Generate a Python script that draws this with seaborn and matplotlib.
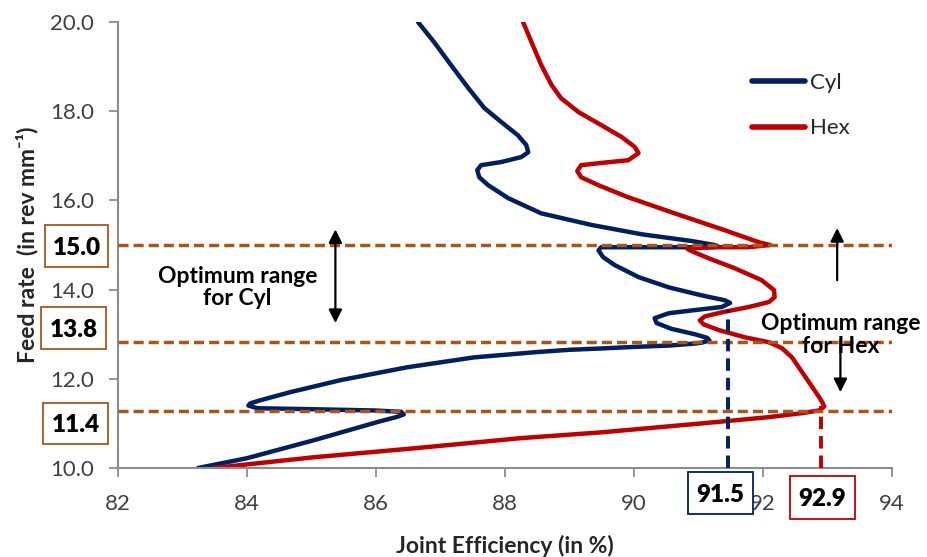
import numpy as np
import pandas as pd
import matplotlib
matplotlib.use('Agg')
import matplotlib.pyplot as plt
import seaborn as sns
from matplotlib.patches import Rectangle

# -------------------------------------------------------
# Data
# -------------------------------------------------------
cyl_eff = [86.65, 86.90, 87.16, 87.43, 87.68, 87.94, 88.20, 88.33, 88.36, 88.25,
           87.94, 87.63, 87.57, 87.60, 87.74, 88.05, 88.56, 89.34, 90.12, 90.89,
           91.25, 91.30, 91.25, 90.27, 89.49, 89.45, 89.52, 89.70, 90.07, 90.54,
           91.05, 91.41, 91.49, 91.36, 90.94, 90.54, 90.32, 90.35, 90.58, 90.94,
           91.13, 91.17, 91.05, 90.94, 90.54, 90.00, 89.49, 89.00, 88.50, 87.52,
           86.49, 85.45, 84.67, 84.21, 84.05, 84.02, 84.16, 84.94, 85.97, 86.39,
           86.43, 86.31, 86.07, 85.03, 84.00, 83.24]
cyl_feed = [20.00, 19.55, 19.04, 18.52, 18.07, 17.76, 17.46, 17.24, 17.08, 16.97,
            16.86, 16.79, 16.68, 16.52, 16.34, 16.05, 15.71, 15.45, 15.24, 15.09,
            15.00, 14.97, 14.95, 14.95, 14.95, 14.88, 14.73, 14.55, 14.28, 14.05,
            13.87, 13.76, 13.70, 13.61, 13.54, 13.47, 13.36, 13.25, 13.12, 13.00,
            12.92, 12.86, 12.81, 12.79, 12.745, 12.715, 12.68, 12.65, 12.60, 12.48,
            12.26, 11.97, 11.70, 11.52, 11.45, 11.40, 11.34, 11.32, 11.29, 11.26,
            11.20, 11.14, 11.05, 10.62, 10.22, 10.00]

hex_eff = [88.28, 88.41, 88.56, 88.72, 88.87, 89.14, 89.49, 89.81, 90.01, 90.07,
           89.91, 89.49, 89.18, 89.12, 89.18, 89.45, 89.91, 90.63, 91.41, 91.94,
           92.11, 91.78, 91.21, 90.89, 90.83, 90.93, 91.16, 91.56, 91.98, 92.17,
           92.18, 92.09, 91.78, 91.36, 91.10, 91.02, 91.08, 91.32, 91.72, 92.09,
           92.29, 92.45, 92.87, 92.92, 92.95, 92.87, 92.60, 92.09, 91.05, 89.50,
           88.25, 86.58, 85.03, 83.48]
hex_feed = [20.00, 19.55, 19.04, 18.59, 18.29, 17.98, 17.69, 17.42, 17.20, 17.06,
            16.90, 16.84, 16.79, 16.66, 16.52, 16.34, 16.07, 15.71, 15.33, 15.06,
            15.00, 14.95, 14.95, 14.93, 14.91, 14.84, 14.70, 14.48, 14.21, 13.99,
            13.83, 13.72, 13.61, 13.49, 13.40, 13.31, 13.22, 13.09, 12.93, 12.82,
            12.69, 12.48, 11.59, 11.47, 11.38, 11.29, 11.23, 11.14, 11.00, 10.80,
            10.67, 10.44, 10.24, 10.00]

cut_feed = [15.0, 12.83, 11.28]          # dashed optimum limits
opt_eff = [91.46, 92.9]                  # optimum efficiency (Cyl, Hex)
opt_top = [13.55, 11.38]                 # where the vertical markers start
feed_labels = ["15.0", "13.8", "11.4"]
eff_labels = ["91.5", "92.9"]
x_ticks = [82, 84, 86, 88, 90, 92, 94]
y_ticks = [10, 12, 14, 16, 18, 20]

NAVY = "#002060"
RED = "#C00000"
BROWN = "#A9561B"
GREY = "#8C8C8C"
W, H = 928, 557


def boxed_label(fig, x0, y0, x1, y1, text, color):
    """Boxed value label placed in figure pixel coordinates."""
    fig.add_artist(Rectangle((x0 / W, 1 - y1 / H), (x1 - x0) / W, (y1 - y0) / H,
                             transform=fig.transFigure, facecolor="white",
                             edgecolor=color, lw=1.3, zorder=5))
    fig.text((x0 + x1) / 2 / W, 1 - ((y0 + y1) / 2 + 2) / H, text,
             ha="center", va="center", fontsize=17.5, fontweight="heavy",
             color="black", zorder=6)


sns.set_theme(style="ticks")
plt.rcParams['font.family'] = ['Lato', 'DejaVu Sans']

fig = plt.figure(figsize=(9.28, 5.57), dpi=100)
ax = fig.add_axes([0.1272, 0.1598, 0.834, 0.8007])

df = pd.concat([
    pd.DataFrame({"eff": cyl_eff, "feed": cyl_feed, "tool": "Cyl"}),
    pd.DataFrame({"eff": hex_eff, "feed": hex_feed, "tool": "Hex"}),
], ignore_index=True)

sns.lineplot(data=df, x="eff", y="feed", hue="tool", palette={"Cyl": NAVY, "Hex": RED},
             sort=False, estimator=None, linewidth=3.2, ax=ax, zorder=2,
             solid_capstyle="round", solid_joinstyle="round")

# optimum limits
for y in cut_feed:
    ax.axhline(y, color=BROWN, lw=2.5, ls=(0, (2.9, 1.45)), zorder=3)
for x, top, c in zip(opt_eff, opt_top, [NAVY, RED]):
    ax.vlines(x, 10, top, color=c, lw=2.8, linestyles=[(0, (3.2, 1.8))], zorder=3)

ax.set_xlim(82, 94)
ax.set_ylim(10, 20)
ax.set_xticks(x_ticks)
ax.set_yticks(y_ticks)
ax.set_yticklabels([f"{v:.1f}" for v in y_ticks])
sns.despine(ax=ax)
for s in ["left", "bottom"]:
    ax.spines[s].set_color(GREY)
    ax.spines[s].set_linewidth(1.5)
ax.tick_params(direction="out", length=6.5, width=1.3, color=GREY,
               labelsize=16, labelcolor="#404040")
ax.tick_params(axis="x", pad=12)
ax.tick_params(axis="y", pad=11)

ax.set_xlabel("Joint Efficiency (in %)", fontsize=16.5, fontweight="bold",
              labelpad=15, color="#262626")
ax.set_ylabel("Feed rate  (in rev mm\u207b\u00b9)", fontsize=16.5, fontweight="bold",
              labelpad=8, color="#262626")

handles, labels = ax.get_legend_handles_labels()
leg = ax.legend(handles, labels, loc="upper left", bbox_to_anchor=(0.819, 0.886),
                frameon=False, fontsize=16, handlelength=2.4, handletextpad=0.2,
                labelspacing=1.15, borderpad=0, borderaxespad=0)
for line in leg.get_lines():
    line.set_linewidth(4)
    line.set_solid_capstyle("round")
for t in leg.get_texts():
    t.set_color("#262626")

# range annotations
ax.text(83.85, 14.05, "Optimum range\nfor Cyl", ha="center", va="center",
        fontsize=16.5, fontweight="bold", linespacing=1.1, color="black")
ax.text(93.2, 12.98, "Optimum range\nfor Hex", ha="center", va="center",
        fontsize=16.5, fontweight="bold", linespacing=1.1, color="black", zorder=4)

arrow = dict(color="black", lw=1.6, mutation_scale=20, shrinkA=0, shrinkB=0)
ax.annotate("", xy=(85.37, 15.35), xytext=(85.37, 13.25),
            arrowprops=dict(arrowstyle="<|-|>", **arrow))
ax.annotate("", xy=(93.15, 15.38), xytext=(93.15, 14.21),
            arrowprops=dict(arrowstyle="-|>", **arrow))
ax.annotate("", xy=(93.2, 11.70), xytext=(93.2, 12.87),
            arrowprops=dict(arrowstyle="-|>", **arrow))

# boxed values
boxed_label(fig, 45, 225, 108, 267, feed_labels[0], BROWN)
boxed_label(fig, 41, 307, 106, 349, feed_labels[1], BROWN)
boxed_label(fig, 43, 403, 108, 444, feed_labels[2], BROWN)
boxed_label(fig, 688, 472, 753, 514, eff_labels[0], NAVY)
boxed_label(fig, 790, 476, 855, 519, eff_labels[1], RED)

fig.savefig("out.png", dpi=100)
plt.close(fig)
